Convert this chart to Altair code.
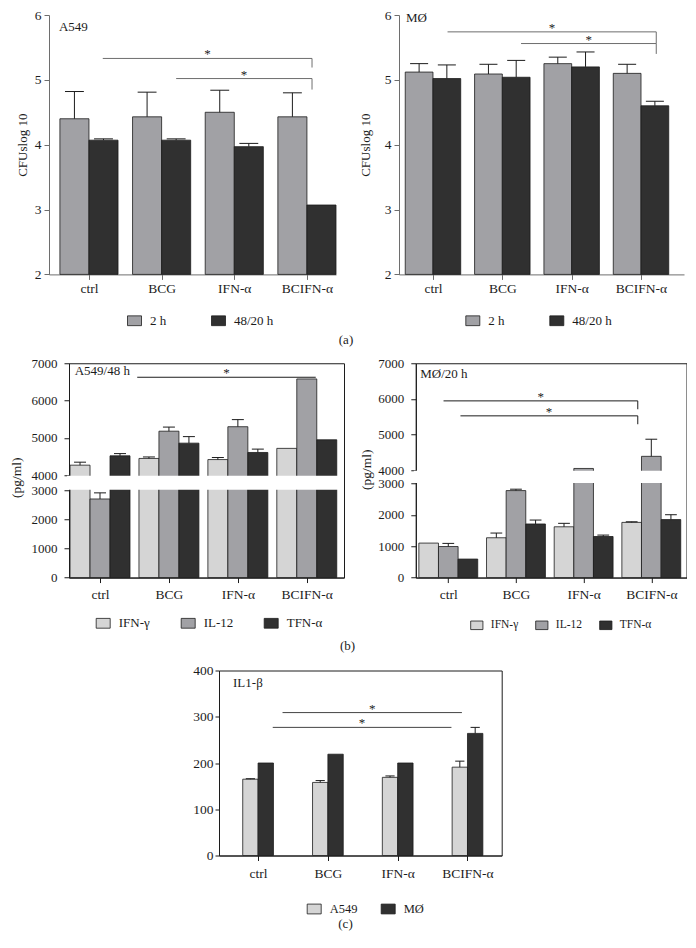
import json
import altair as alt
import pandas as pd

FONT = "Liberation Serif"
INK = "#1c1c1c"
GRAY_A = "#a1a1a5"
DARK = "#303030"
LIGHT = "#d5d5d5"
RECT = "M-1,-0.7L1,-0.7L1,0.7L-1,0.7Z"

categories = ["ctrl", "BCG", "IFN-α", "BCIFN-α"]

# ---- (a) CFU log10 ----
a_series = ["2 h", "48/20 h"]
a549_cfu_2h = [4.40, 4.43, 4.50, 4.43]
a549_cfu_2h_err = [4.82, 4.81, 4.84, 4.80]
a549_cfu_48h = [4.07, 4.07, 3.97, 3.07]
a549_cfu_48h_err = [4.09, 4.09, 4.02, None]
mo_cfu_2h = [5.12, 5.09, 5.25, 5.10]
mo_cfu_2h_err = [5.25, 5.24, 5.35, 5.24]
mo_cfu_20h = [5.02, 5.04, 5.20, 4.60]
mo_cfu_20h_err = [5.23, 5.30, 5.43, 4.67]

# ---- (b) cytokines (pg/ml) ----
b_series = ["IFN-γ", "IL-12", "TFN-α"]
a549_ifng = [4270, 4450, 4420, 4720]
a549_ifng_err = [4350, 4490, 4475, None]
a549_il12 = [2700, 5180, 5300, 6580]
a549_il12_err = [2910, 5290, 5490, None]
a549_tnfa = [4520, 4860, 4610, 4950]
a549_tnfa_err = [4580, 5035, 4700, None]
mo_ifng = [1100, 1270, 1620, 1760]
mo_ifng_err = [None, 1420, 1730, 1780]
mo_il12 = [990, 2775, 4050, 4390]
mo_il12_err = [1090, 2820, None, 4870]
mo_tnfa = [590, 1710, 1310, 1850]
mo_tnfa_err = [None, 1835, 1355, 2005]

# ---- (c) IL1-beta ----
c_series = ["A549", "MØ"]
il1b_a549 = [165, 158, 169, 191]
il1b_a549_err = [166, 162, 172, 204]
il1b_mo = [200, 219, 200, 264]
il1b_mo_err = [None, None, None, 277]

# significance brackets: (from group, to group, level, drop-to level)
a549_cfu_sig = [(0.19, 3.07, 5.33, 5.19), (1.20, 3.07, 5.02, 4.85)]
mo_cfu_sig = [(0.21, 3.22, 5.74, 5.56), (1.27, 3.22, 5.56, 5.40)]
a549_cyt_sig = [(0.54, 3.13, 6625, None)]
mo_cyt_sig = [(-0.07, 2.80, 5945, 5710), (0.18, 2.80, 5525, 5290)]
il1b_sig = [(0.35, 2.92, 309, None), (0.21, 2.77, 277, None)]

cat_expr = json.dumps(categories, ensure_ascii=False) + "[datum.value]"


def bar_table(series, values, errors, bw, cap):
    n = len(series)
    rows = []
    for si, name in enumerate(series):
        off = (si - (n - 1) / 2) * bw
        for ci, cat in enumerate(categories):
            c = ci + off
            rows.append({"series": name, "cat": cat, "xc": c,
                         "xl": c - bw / 2, "xr": c + bw / 2,
                         "cl": c - cap * bw / 2, "cr": c + cap * bw / 2,
                         "val": values[si][ci], "err": errors[si][ci]})
    return pd.DataFrame(rows)


def sig_table(sig):
    return pd.DataFrame([{"x1": a, "x2": b, "xm": (a + b) / 2, "y": y, "yd": d}
                         for a, b, y, d in sig])


def make_panel(cfg):
    W, H = cfg["W"], cfg["H"]
    df = bar_table(cfg["series"], cfg["values"], cfg["errors"], cfg["bw"], cfg["cap"])
    edf = df.dropna(subset=["err"])
    sdf = sig_table(cfg["sig"])
    ddf = sdf.dropna(subset=["yd"])
    xs = alt.Scale(domain=cfg["xdom"], nice=False, zero=False)
    ys = cfg["yscale"]
    ac = cfg["axis_color"]

    if cfg.get("caption"):
        cap_kw = dict(title=cfg["caption"], titleX=cfg["caption_xy"][0], titleY=cfg["caption_xy"][1],
                      titleFont=FONT, titleFontSize=13, titleFontWeight="normal", titleColor=INK,
                      titleBaseline="middle", titleAlign="center")
    else:
        cap_kw = dict(title=None)
    x_axis = alt.Axis(values=[0, 1, 2, 3], labelExpr=cat_expr, grid=False, tickSize=5,
                      tickColor=ac, domainColor=ac, labelPadding=cfg["xlabpad"], labelFont=FONT,
                      labelFontSize=13.5, labelColor=INK, labelFlush=False, labelOverlap=False,
                      **cap_kw)
    if cfg.get("ytitle"):
        yt_kw = dict(title=cfg["ytitle"], titleX=cfg["ytitle_xy"][0], titleY=cfg["ytitle_xy"][1],
                     titleAngle=270, titleAlign="center", titleBaseline="middle", titleFont=FONT,
                     titleFontSize=cfg["ytitle_size"], titleFontWeight="normal", titleColor=INK)
    else:
        yt_kw = dict(title=None)
    y_axis = alt.Axis(values=cfg["yticks"], format="d", grid=False, tickSize=cfg["ytick"],
                      tickColor=ac, domainColor=ac, labelPadding=cfg["ylabpad"], labelFont=FONT,
                      labelFontSize=cfg["ylabsize"], labelColor=INK, labelOverlap=False,
                      zindex=0, **yt_kw)
    lg = cfg["legend"]
    legend = alt.Legend(orient="none", legendX=lg["x"], legendY=lg["y"],
                        direction="horizontal", title=None, symbolType=RECT,
                        symbolSize=lg["size"], symbolStrokeColor=INK, symbolStrokeWidth=0.8,
                        symbolOpacity=1, labelFont=FONT, labelFontSize=lg["font"],
                        labelColor=INK, labelOffset=lg["offset"], columnPadding=lg["pad"],
                        padding=0)

    def X(f):
        return alt.X(f, scale=xs, axis=x_axis)

    def Y(f):
        return alt.Y(f, scale=ys, axis=y_axis)

    layers = []
    layers.append(alt.Chart(df).mark_bar(stroke=INK, strokeWidth=0.8).encode(
        x=X("xl:Q"), x2="xr:Q",
        y=Y("val:Q"), y2=alt.datum(cfg["ybase"]),
        fill=alt.Fill("series:N", scale=alt.Scale(domain=cfg["series"], range=cfg["colors"]),
                      legend=legend),
    ))
    if cfg.get("brk"):
        lo, hi = cfg["brk"]
        layers.append(alt.Chart(pd.DataFrame({"lo": [lo], "hi": [hi]})).mark_rect(
            color="white").encode(
            x=alt.value(-2), x2=alt.value(W - 1), y=Y("lo:Q"), y2="hi:Q"))
    layers.append(alt.Chart(edf).mark_rule(color=INK, strokeWidth=1).encode(
        x=X("xc:Q"), y=Y("val:Q"), y2="err:Q"))
    layers.append(alt.Chart(edf).mark_rule(color=INK, strokeWidth=1).encode(
        x=X("cl:Q"), x2="cr:Q", y=Y("err:Q")))
    sc = cfg["sig_color"]
    layers.append(alt.Chart(sdf).mark_rule(color=sc, strokeWidth=1).encode(
        x=X("x1:Q"), x2="x2:Q", y=Y("y:Q")))
    if len(ddf):
        layers.append(alt.Chart(ddf).mark_rule(color=sc, strokeWidth=1).encode(
            x=X("x2:Q"), y=Y("y:Q"), y2="yd:Q"))
    layers.append(alt.Chart(sdf).mark_text(text="*", font=FONT, fontSize=13, color=INK,
                                           baseline="alphabetic", dy=0).encode(
        x=X("xm:Q"), y=Y("y:Q")))
    lx, ly = cfg["label_xy"]
    layers.append(alt.Chart(pd.DataFrame({"t": [cfg["label"]], "lx": [lx], "ly": [ly]})).mark_text(
        align="left", baseline="middle", font=FONT, fontSize=13, color=INK).encode(
        x=X("lx:Q"), y=Y("ly:Q"), text="t:N"))

    if cfg.get("frame"):
        view = alt.ViewBackground(stroke=cfg["frame"], strokeWidth=1)
    else:
        view = alt.ViewBackground(stroke="transparent", strokeWidth=0)
    return alt.layer(*layers).properties(width=W, height=H, view=view)


def spacer(w):
    # empty cell that only shifts the row it starts
    return alt.Chart(pd.DataFrame({"s": [0]})).mark_circle(size=0, opacity=0).encode(
        x=alt.value(0), y=alt.value(0)).properties(
        width=w, height=1, view=alt.ViewBackground(stroke="transparent", strokeWidth=0))


def caption(text, offset):
    return alt.TitleParams(text, orient="bottom", anchor="middle", offset=offset,
                           baseline="top", font=FONT, fontSize=13, fontWeight="normal",
                           color=INK)


a_y = alt.Scale(domain=[2, 6], nice=False, zero=False)
common_a = dict(series=a_series, colors=[GRAY_A, DARK], bw=0.4, cap=0.65, H=259.4,
                yscale=a_y, ybase=2, yticks=[2, 3, 4, 5, 6], ytick=5, ylabpad=3, ylabsize=13.5,
                ytitle="CFUslog 10", ytitle_size=13, xlabpad=2,
                sig_color="#6e6e6e", axis_color="#6e6e6e")
a1 = make_panel(dict(common_a, values=[a549_cfu_2h, a549_cfu_48h],
                     errors=[a549_cfu_2h_err, a549_cfu_48h_err], xdom=[-0.55, 3.40], W=287,
                     ytitle_xy=(-27, 129.7),
                     legend=dict(x=78, y=298, size=196, font=13, offset=8, pad=42),
                     label="A549", label_xy=(-0.413, 5.81), sig=a549_cfu_sig))
a2 = make_panel(dict(common_a, values=[mo_cfu_2h, mo_cfu_20h],
                     errors=[mo_cfu_2h_err, mo_cfu_20h_err], xdom=[-0.49, 3.62], W=285,
                     ytitle_xy=(-34, 129.7),
                     legend=dict(x=66.3, y=298, size=196, font=13, offset=8, pad=42),
                     label="MØ", label_xy=(-0.39, 5.95), sig=mo_cfu_sig))

b_ticks = [0, 1000, 2000, 3000, 4000, 5000, 6000, 7000]
common_b = dict(series=b_series, colors=[LIGHT, GRAY_A, DARK], bw=0.29, cap=0.6, H=214.3,
                ybase=0, yticks=b_ticks, ytick=5, ylabpad=7, ylabsize=13, ytitle="(pg/ml)",
                ytitle_size=13.5, xlabpad=5, sig_color=INK, axis_color=INK, frame=INK,
                brk=(3040, 3960))
b1 = make_panel(dict(common_b, values=[a549_ifng, a549_il12, a549_tnfa],
                     errors=[a549_ifng_err, a549_il12_err, a549_tnfa_err],
                     xdom=[-0.45, 3.54], W=275,
                     yscale=alt.Scale(domain=[0, 3000, 4000, 7000], range=[214.3, 127, 112, 0],
                                      nice=False, zero=False),
                     ytitle_xy=(-52.5, 114),
                     legend=dict(x=26.7, y=252.3, size=196, font=13, offset=8, pad=28),
                     label="A549/48 h", label_xy=(-0.367, 6786), sig=a549_cyt_sig))
b2 = make_panel(dict(common_b, values=[mo_ifng, mo_il12, mo_tnfa],
                     errors=[mo_ifng_err, mo_il12_err, mo_tnfa_err],
                     xdom=[-0.48, 3.52], W=270.7,
                     yscale=alt.Scale(domain=[0, 3000, 4000, 7000], range=[214.3, 120.3, 107, 0],
                                      nice=False, zero=False),
                     ytitle_xy=(-49.3, 106),
                     legend=dict(x=54, y=255, size=150, font=11.5, offset=7, pad=15),
                     label="MØ/20 h", label_xy=(-0.414, 6692), sig=mo_cyt_sig))

c = make_panel(dict(series=c_series, colors=[LIGHT, DARK], bw=0.22, cap=0.6, H=185,
                    values=[il1b_a549, il1b_mo], errors=[il1b_a549_err, il1b_mo_err],
                    xdom=[-0.56, 3.49], W=282.7,
                    yscale=alt.Scale(domain=[0, 400], nice=False, zero=False), ybase=0,
                    yticks=[0, 100, 200, 300, 400], ytick=4, ylabpad=2, ylabsize=13.5,
                    xlabpad=6, caption="(c)", caption_xy=(126, 68),
                    legend=dict(x=87.7, y=231, size=196, font=12.5, offset=8, pad=21),
                    label="IL1-β", label_xy=(-0.359, 372), sig=il1b_sig,
                    sig_color="#444444", axis_color=INK, frame=INK))

rowA = alt.hconcat(
    spacer(8),
    alt.hconcat(a1, a2, spacing=22).resolve_scale(fill="independent"),
    spacing=0, title=caption("(a)", 6)).resolve_scale(fill="independent")
rowB = alt.hconcat(
    spacer(1),
    alt.hconcat(b1, b2, spacing=13.8).resolve_scale(fill="independent"),
    spacing=0, title=caption("(b)", 8.5)).resolve_scale(fill="independent")
rowC = alt.hconcat(spacer(184), c, spacing=0).resolve_scale(fill="independent")

chart = alt.vconcat(rowA, rowB, rowC, spacing=9.25).resolve_scale(
    fill="independent").properties(padding=0).configure(
    font=FONT).configure_axis(labelFont=FONT, titleFont=FONT)

chart.save("out.html", embed_options={"renderer": "svg", "actions": False})
